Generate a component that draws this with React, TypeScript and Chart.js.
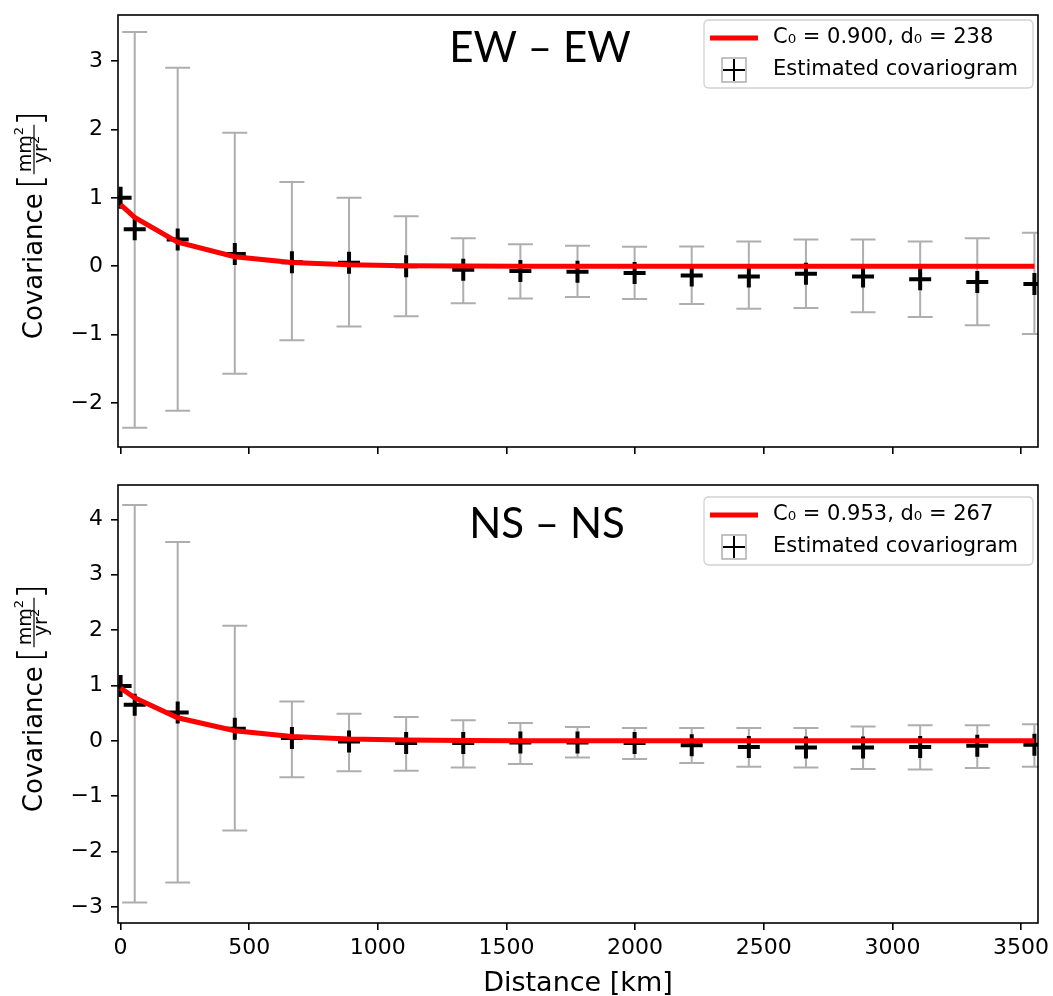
import React, { useEffect, useRef } from "react";
import { Chart, registerables } from "chart.js";

Chart.register(...registerables);

// ---------- data ----------
const distanceKm = [0, 55, 222, 444, 666, 888, 1110, 1332, 1554, 1776, 1998, 2220, 2442, 2664, 2886, 3108, 3330, 3552];
const xTickValues = [0, 500, 1000, 1500, 2000, 2500, 3000, 3500];
const ewTickValues = [-2, -1, 0, 1, 2, 3];
const nsTickValues = [-3, -2, -1, 0, 1, 2, 3, 4];

const ewCovariance = [1.0, 0.54, 0.39, 0.18, 0.06, 0.05, 0.0, -0.05, -0.07, -0.08, -0.1, -0.135, -0.15, -0.11, -0.15, -0.19, -0.23, -0.26];
const ewErrHigh = [null, 3.42, 2.9, 1.95, 1.23, 1.0, 0.73, 0.41, 0.32, 0.3, 0.285, 0.29, 0.36, 0.39, 0.39, 0.36, 0.41, 0.49];
const ewErrLow = [null, -2.36, -2.11, -1.57, -1.08, -0.88, -0.73, -0.54, -0.47, -0.45, -0.48, -0.55, -0.62, -0.61, -0.67, -0.74, -0.86, -0.99];
const ewModel = [0.9, 0.714, 0.353, 0.139, 0.054, 0.021, 0.0084, 0.0033, 0.0013, 0.0005, 0.0002, 0.0001, 0, 0, 0, 0, 0, 0];

const nsCovariance = [0.99, 0.65, 0.51, 0.22, 0.05, -0.01, -0.04, -0.04, -0.03, -0.03, -0.04, -0.08, -0.11, -0.12, -0.12, -0.11, -0.09, -0.07];
const nsErrHigh = [null, 4.26, 3.59, 2.08, 0.71, 0.49, 0.43, 0.37, 0.32, 0.25, 0.23, 0.23, 0.23, 0.23, 0.26, 0.28, 0.28, 0.3];
const nsErrLow = [null, -2.92, -2.56, -1.62, -0.66, -0.55, -0.54, -0.48, -0.42, -0.3, -0.33, -0.4, -0.47, -0.48, -0.51, -0.52, -0.49, -0.47];
const nsModel = [0.953, 0.776, 0.416, 0.181, 0.079, 0.034, 0.015, 0.0066, 0.0029, 0.0013, 0.0005, 0.0002, 0.0001, 0, 0, 0, 0, 0];

const X_MIN = -10;
const X_MAX = 3566;

const FONT = '"DejaVu Sans", sans-serif';

type PanelCfg = {
  title: string;
  titleX: number;
  titleBaseline: number;
  legendTop: number;
  legendText: string;
  cov: number[];
  errHigh: (number | null)[];
  errLow: (number | null)[];
  model: number[];
  yTicks: number[];
  yMin: number;
  yMax: number;
  height: number;
  padTop: number;
  xAxisHeight: number;
  showXLabels: boolean;
};

const panels: PanelCfg[] = [
  {
    title: "EW – EW",
    titleX: 540,
    titleBaseline: 62,
    legendTop: 20,
    legendText: "C₀ = 0.900, d₀ = 238",
    cov: ewCovariance,
    errHigh: ewErrHigh,
    errLow: ewErrLow,
    model: ewModel,
    yTicks: ewTickValues,
    yMin: -2.64,
    yMax: 3.67,
    height: 470,
    padTop: 10,
    xAxisHeight: 23,
    showXLabels: false,
  },
  {
    title: "NS – NS",
    titleX: 547,
    titleBaseline: 68,
    legendTop: 27,
    legendText: "C₀ = 0.953, d₀ = 267",
    cov: nsCovariance,
    errHigh: nsErrHigh,
    errLow: nsErrLow,
    model: nsModel,
    yTicks: nsTickValues,
    yMin: -3.29,
    yMax: 4.62,
    height: 526,
    padTop: 15,
    xAxisHeight: 73,
    showXLabels: true,
  },
];

const fmtNum = (v: number) => (v < 0 ? "\u2212" + Math.abs(v) : String(v));

function drawYLabel(ctx: CanvasRenderingContext2D, area: any) {
  const cy = (area.top + area.bottom) / 2 - 4;
  ctx.save();
  ctx.translate(42, cy);
  ctx.rotate(-Math.PI / 2);
  ctx.fillStyle = "#000";
  ctx.strokeStyle = "#000";
  ctx.textBaseline = "alphabetic";
  ctx.textAlign = "left";
  ctx.font = `26px ${FONT}`;
  const main = "Covariance";
  const wMain = ctx.measureText(main).width;
  ctx.font = `19px ${FONT}`;
  const wMm = ctx.measureText("mm").width;
  const wYr = ctx.measureText("yr").width;
  ctx.font = `13px ${FONT}`;
  const w2 = ctx.measureText("2").width;
  const wf = Math.max(wMm, wYr) + w2 + 4;
  const gap1 = 9;
  const bw = 7;
  const total = wMain + gap1 + bw + 3 + wf + 3 + bw;
  const s = -total / 2;
  ctx.font = `26px ${FONT}`;
  ctx.fillText(main, s, 0);
  const b1 = s + wMain + gap1;
  ctx.lineWidth = 1.9;
  ctx.beginPath();
  ctx.moveTo(b1 + bw - 1, -25);
  ctx.lineTo(b1, -25);
  ctx.lineTo(b1, 4);
  ctx.lineTo(b1 + bw - 1, 4);
  ctx.stroke();
  const f = b1 + bw + 3;
  ctx.lineWidth = 1.2;
  ctx.beginPath();
  ctx.moveTo(f, -8);
  ctx.lineTo(f + wf, -8);
  ctx.stroke();
  const numX = f + (wf - (wMm + w2)) / 2;
  ctx.font = `19px ${FONT}`;
  ctx.fillText("mm", numX, -11);
  ctx.font = `13px ${FONT}`;
  ctx.fillText("2", numX + wMm, -19);
  const denX = f + (wf - (wYr + w2)) / 2;
  ctx.font = `19px ${FONT}`;
  ctx.fillText("yr", denX, 5);
  ctx.font = `13px ${FONT}`;
  ctx.fillText("2", denX + wYr, -3);
  const b2 = f + wf + 3;
  ctx.lineWidth = 1.9;
  ctx.beginPath();
  ctx.moveTo(b2, -25);
  ctx.lineTo(b2 + bw - 1, -25);
  ctx.lineTo(b2 + bw - 1, 4);
  ctx.lineTo(b2, 4);
  ctx.stroke();
  ctx.restore();
}

function roundRect(ctx: CanvasRenderingContext2D, x: number, y: number, w: number, h: number, r: number) {
  ctx.beginPath();
  ctx.moveTo(x + r, y);
  ctx.lineTo(x + w - r, y);
  ctx.quadraticCurveTo(x + w, y, x + w, y + r);
  ctx.lineTo(x + w, y + h - r);
  ctx.quadraticCurveTo(x + w, y + h, x + w - r, y + h);
  ctx.lineTo(x + r, y + h);
  ctx.quadraticCurveTo(x, y + h, x, y + h - r);
  ctx.lineTo(x, y + r);
  ctx.quadraticCurveTo(x, y, x + r, y);
  ctx.closePath();
}

function Panel({ cfg }: { cfg: PanelCfg }) {
  const ref = useRef<HTMLCanvasElement | null>(null);

  useEffect(() => {
    if (!ref.current) return;

    const errorBarPlugin = {
      id: "errorBars",
      beforeDatasetsDraw(chart: any) {
        const { ctx, chartArea, scales } = chart;
        ctx.save();
        ctx.beginPath();
        ctx.rect(chartArea.left, chartArea.top, chartArea.right - chartArea.left, chartArea.bottom - chartArea.top);
        ctx.clip();
        ctx.strokeStyle = "rgba(140,140,140,0.7)";
        ctx.lineWidth = 2;
        distanceKm.forEach((d, i) => {
          const hi = cfg.errHigh[i];
          const lo = cfg.errLow[i];
          if (hi == null || lo == null) return;
          const x = scales.x.getPixelForValue(d);
          const yh = scales.y.getPixelForValue(hi);
          const yl = scales.y.getPixelForValue(lo);
          ctx.beginPath();
          ctx.moveTo(x, yh);
          ctx.lineTo(x, yl);
          ctx.moveTo(x - 12.5, yh);
          ctx.lineTo(x + 12.5, yh);
          ctx.moveTo(x - 12.5, yl);
          ctx.lineTo(x + 12.5, yl);
          ctx.stroke();
        });
        ctx.restore();
      },
    };

    const decorPlugin = {
      id: "decor",
      afterDraw(chart: any) {
        const { ctx, chartArea } = chart;
        ctx.save();
        // frame
        ctx.strokeStyle = "#000";
        ctx.lineWidth = 1.6;
        ctx.strokeRect(chartArea.left, chartArea.top, chartArea.right - chartArea.left, chartArea.bottom - chartArea.top);
        // title
        ctx.fillStyle = "#000";
        ctx.font = `42px Lato, "Open Sans", sans-serif`;
        ctx.textAlign = "center";
        ctx.textBaseline = "alphabetic";
        ctx.fillText(cfg.title, cfg.titleX, cfg.titleBaseline);
        // legend
        const lx = 704;
        const ly = cfg.legendTop;
        const lw = 329;
        const lh = 68;
        roundRect(ctx, lx, ly, lw, lh, 5);
        ctx.fillStyle = "rgba(255,255,255,0.8)";
        ctx.fill();
        ctx.strokeStyle = "#d2d2d2";
        ctx.lineWidth = 1.3;
        ctx.stroke();
        const r1 = ly + 18;
        const r2 = ly + 50;
        ctx.strokeStyle = "#ff0000";
        ctx.lineWidth = 5;
        ctx.beginPath();
        ctx.moveTo(710, r1);
        ctx.lineTo(758, r1);
        ctx.stroke();
        // error bar marker
        ctx.strokeStyle = "rgba(140,140,140,0.7)";
        ctx.lineWidth = 1.5;
        ctx.strokeRect(722, r2 - 12, 24, 24);
        ctx.strokeStyle = "#000";
        ctx.lineWidth = 2;
        ctx.beginPath();
        ctx.moveTo(723, r2);
        ctx.lineTo(745, r2);
        ctx.moveTo(734, r2 - 11);
        ctx.lineTo(734, r2 + 11);
        ctx.stroke();
        ctx.fillStyle = "#000";
        ctx.font = `21px ${FONT}`;
        ctx.textAlign = "left";
        ctx.textBaseline = "middle";
        ctx.fillText(cfg.legendText, 773, r1);
        ctx.fillText("Estimated covariogram", 773, r2);
        ctx.restore();
        drawYLabel(ctx, chartArea);
      },
    };

    const chart = new Chart(ref.current, {
      type: "line",
      data: {
        datasets: [
          {
            label: cfg.legendText,
            data: distanceKm.map((d, i) => ({ x: d, y: cfg.model[i] })),
            borderColor: "#ff0000",
            borderWidth: 5,
            pointRadius: 0,
            fill: false,
            tension: 0,
            order: 0,
          },
          {
            label: "Estimated covariogram",
            data: distanceKm.map((d, i) => ({ x: d, y: cfg.cov[i] })),
            showLine: false,
            pointStyle: "cross",
            pointRadius: 11,
            pointBorderWidth: 4,
            pointBorderColor: "#000",
            pointBackgroundColor: "#000",
            borderColor: "#000",
            clip: 0,
            order: 1,
          } as any,
        ],
      },
      options: {
        animation: false,
        responsive: false,
        devicePixelRatio: 1,
        layout: { padding: { left: 0, right: 10, top: cfg.padTop, bottom: 0 } },
        plugins: { legend: { display: false }, tooltip: { enabled: false } },
        scales: {
          x: {
            type: "linear",
            min: X_MIN,
            max: X_MAX,
            afterBuildTicks: (s: any) => {
              s.ticks = xTickValues.map((v) => ({ value: v }));
            },
            afterFit: (s: any) => {
              s.height = cfg.xAxisHeight;
              s.paddingLeft = 0;
              s.paddingRight = 0;
            },
            grid: { display: true, drawOnChartArea: false, drawTicks: true, tickLength: 7, color: "#000", lineWidth: 1.6 },
            border: { display: false },
            ticks: {
              display: cfg.showXLabels,
              maxRotation: 0,
              autoSkip: false,
              padding: 5,
              color: "#000",
              font: { family: FONT, size: 22 },
              callback: (v: any) => String(v),
            },
            title: {
              display: cfg.showXLabels,
              text: "Distance [km]",
              color: "#000",
              font: { family: FONT, size: 27 },
              padding: { top: 0, bottom: -4 },
            },
          },
          y: {
            type: "linear",
            min: cfg.yMin,
            max: cfg.yMax,
            afterBuildTicks: (s: any) => {
              s.ticks = cfg.yTicks.map((v) => ({ value: v }));
            },
            afterFit: (s: any) => {
              s.width = 118;
              s.paddingTop = 0;
              s.paddingBottom = 0;
            },
            grid: { display: true, drawOnChartArea: false, drawTicks: true, tickLength: 7, color: "#000", lineWidth: 1.6 },
            border: { display: false },
            ticks: {
              padding: 8,
              color: "#000",
              font: { family: FONT, size: 22 },
              callback: (v: any) => fmtNum(Number(v)),
            },
          },
        },
      },
      plugins: [errorBarPlugin, decorPlugin],
    } as any);

    return () => chart.destroy();
  }, [cfg]);

  return <canvas ref={ref} width={1053} height={cfg.height} style={{ display: "block", width: 1053, height: cfg.height }} />;
}

export default function App() {
  return (
    <div style={{ position: "absolute", left: 0, top: 0, width: 1053, height: 996, background: "#fff" }}>
      <Panel cfg={panels[0]} />
      <Panel cfg={panels[1]} />
    </div>
  );
}
